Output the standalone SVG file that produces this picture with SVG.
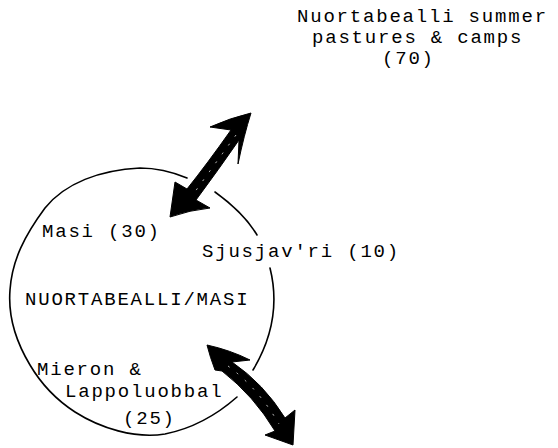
<svg xmlns="http://www.w3.org/2000/svg" width="558" height="448" viewBox="0 0 558 448">
<style>
text{font-family:"Liberation Mono","DejaVu Sans Mono",monospace;font-size:19px;letter-spacing:1.8px;fill:#000}
.ring{fill:none;stroke:#000;stroke-width:1.6;stroke-linecap:round}
.arrow{fill:#000;stroke:#000;stroke-width:1;stroke-linejoin:round}
.streak{fill:none;stroke:#fff;stroke-width:0.8;stroke-dasharray:2 9}
</style>
<rect width="558" height="448" fill="#fff"/>
<g id="summer-pastures">
<text x="297" y="22">Nuortabealli summer</text>
<text x="312" y="43">pastures &amp; camps</text>
<text x="382" y="64">(70)</text>
</g>
<g id="nuortabealli-masi">
<path class="ring" d="M237,397 C220,412 195,428 165,434 C135,439 100,428 75,412 C55,399 40,382 30,365 C15,340 8,315 10,290 C12,260 25,235 45,208 C65,183 100,170 140,168 C160,168 175,173 187,178"/>
<path class="ring" d="M215,192 C233,205 247,218 257,235"/>
<path class="ring" d="M270,268 C278,300 274,335 253,370"/>
<text x="42" y="237">Masi (30)</text>
<text x="202" y="257">Sjusjav'ri (10)</text>
<text x="25" y="305">NUORTABEALLI/MASI</text>
<text x="37" y="375">Mieron &amp;</text>
<text x="65" y="397">Lappoluobbal</text>
<text x="123" y="424">(25)</text>
</g>
<g id="connectors">
<path class="arrow" d="M251,113 Q230,118 210,127 L231,130 Q207,164 187,189 L175,182 L170,217 Q190,210 210,208 L196,200 Q219,169 239,140 L238,164 Q244,135 251,113 Z"/>
<path class="streak" d="M236,135 Q214,165 192,196"/>
<path class="arrow" d="M207,345 Q230,350 250,360 L232,362 Q264,384 285,418 L295,410 L293,445 L265,435 L275,431 Q254,396 222,371 L215,370 Q210,357 207,345 Z"/>
<path class="streak" d="M228,366 Q258,388 279,424"/>
</g>
</svg>
